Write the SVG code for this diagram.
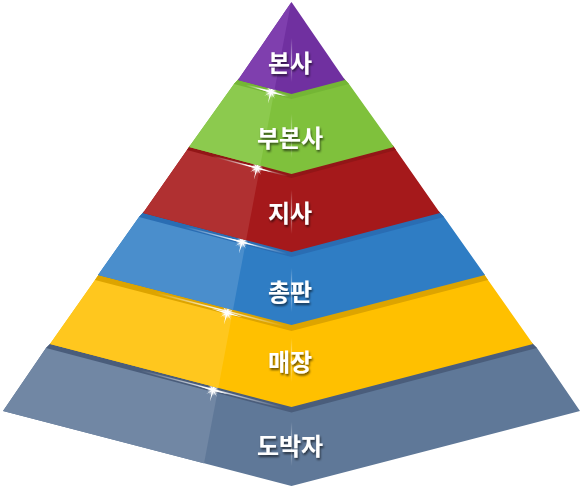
<svg xmlns="http://www.w3.org/2000/svg" xmlns:xlink="http://www.w3.org/1999/xlink" width="585" height="490" viewBox="0 0 585 490">
<style>
.lbl{font-family:"Noto Sans CJK KR","Noto Sans",sans-serif;font-weight:700;font-size:24px;fill:#ffffff;text-anchor:middle;dominant-baseline:central;filter:url(#tshadow)}
.glint{stroke:url(#glintGrad);stroke-width:1.4;fill:none}
.seam{fill:url(#seamGrad)}
</style>
<defs>
<filter id="tshadow" x="-20%" y="-30%" width="140%" height="170%">
<feDropShadow dx="1" dy="2" stdDeviation="1.3" flood-color="#000" flood-opacity="0.6"/>
</filter>
<clipPath id="leftFace"><polygon points="0,0 291.5,0 199,490 0,490"/></clipPath>
<linearGradient id="glintGrad" x1="0" y1="0" x2="1" y2="0">
<stop offset="0" stop-color="#fff" stop-opacity="0"/>
<stop offset="0.5" stop-color="#fff" stop-opacity="0.9"/>
<stop offset="1" stop-color="#fff" stop-opacity="0"/>
</linearGradient>
<linearGradient id="seamGrad" x1="0" y1="0" x2="0" y2="1">
<stop offset="0" stop-color="#fff" stop-opacity="0"/>
<stop offset="0.5" stop-color="#fff" stop-opacity="0.6"/>
<stop offset="1" stop-color="#fff" stop-opacity="0"/>
</linearGradient>
<radialGradient id="sparkGlow">
<stop offset="0" stop-color="#fff" stop-opacity="1"/>
<stop offset="0.35" stop-color="#fff" stop-opacity="0.8"/>
<stop offset="1" stop-color="#fff" stop-opacity="0"/>
</radialGradient>
<g id="spark">
<circle r="6" fill="url(#sparkGlow)"/>
<path d="M-16,0 L0,-1 L16,0 L0,1Z M0,-12 L1,0 L0,12 L-1,0Z" fill="#fff" transform="rotate(15)"/>
<path d="M-8,0 L0,-0.7 L8,0 L0,0.7Z" fill="#fff" transform="rotate(60)"/>
<path d="M-8,0 L0,-0.7 L8,0 L0,0.7Z" fill="#fff" transform="rotate(-30)"/>
</g>
</defs>

<g id="layer-dobakja">
<polygon points="46,348 51.5,342.5 291.5,405 531.5,342.5 537,348 580,411 291.5,486 3,411" fill="#5f7898"/>
<polygon points="46,348 51.5,342.5 291.5,405 531.5,342.5 537,348 580,411 291.5,486 3,411" fill="#7187a4" clip-path="url(#leftFace)"/>
<polygon points="46,348 51.5,342.5 291.5,405 531.5,342.5 537,348 291.5,412.5" fill="#4a5d7b"/>
<line class="glint" x1="140" y1="370.4" x2="283" y2="407.8"/>
<use xlink:href="#spark" x="213" y="390"/>
<rect class="seam" x="290.9" y="422" width="1.2" height="44"/>
<text class="lbl" x="290" y="444">도박자</text>
</g>

<g id="layer-maejang">
<polygon points="95,280 99.5,273.5 291.5,323 483.5,273.5 488,280 533,344 291.5,407 50,344" fill="#ffc000"/>
<polygon points="95,280 99.5,273.5 291.5,323 483.5,273.5 488,280 533,344 291.5,407 50,344" fill="#ffc71e" clip-path="url(#leftFace)"/>
<polygon points="95,280 99.5,273.5 291.5,323 483.5,273.5 488,280 291.5,331" fill="#dda400"/>
<line class="glint" x1="155" y1="292.7" x2="285" y2="326.3"/>
<use xlink:href="#spark" x="227" y="313"/>
<rect class="seam" x="290.9" y="338" width="1.2" height="44"/>
<text class="lbl" x="290" y="360">매장</text>
</g>

<g id="layer-chongpan">
<polygon points="139,217 144.5,211 291.5,250 438.5,211 444,217 485,275 291.5,325 98,275" fill="#2f7dc4"/>
<polygon points="139,217 144.5,211 291.5,250 438.5,211 444,217 485,275 291.5,325 98,275" fill="#4a8ecc" clip-path="url(#leftFace)"/>
<polygon points="139,217 144.5,211 291.5,250 438.5,211 444,217 291.5,257" fill="#2a6db3"/>
<line class="glint" x1="185" y1="227.1" x2="287" y2="253.8"/>
<use xlink:href="#spark" x="242" y="242"/>
<rect class="seam" x="290.9" y="268" width="1.2" height="44"/>
<text class="lbl" x="290" y="290">총판</text>
</g>

<g id="layer-jisa">
<polygon points="187,150 190.5,145 291.5,172 392.5,145 396,150 440,213 291.5,252 143,213" fill="#a5191b"/>
<polygon points="187,150 190.5,145 291.5,172 392.5,145 396,150 440,213 291.5,252 143,213" fill="#b03031" clip-path="url(#leftFace)"/>
<polygon points="187,150 190.5,145 291.5,172 392.5,145 396,150 291.5,178" fill="#921617"/>
<line class="glint" x1="212" y1="156.1" x2="288" y2="176.1"/>
<use xlink:href="#spark" x="257" y="168"/>
<rect class="seam" x="290.9" y="190" width="1.2" height="44"/>
<text class="lbl" x="290" y="211">지사</text>
</g>

<g id="layer-bubonsa">
<polygon points="234,84 239.5,78 291.5,92 343.5,78 349,84 394,147 291.5,174 189,147" fill="#7fc13c"/>
<polygon points="234,84 239.5,78 291.5,92 343.5,78 349,84 394,147 291.5,174 189,147" fill="#8cca4e" clip-path="url(#leftFace)"/>
<polygon points="234,84 239.5,78 291.5,92 343.5,78 349,84 291.5,99" fill="#74b635"/>
<line class="glint" x1="246" y1="85.1" x2="289" y2="96.3"/>
<use xlink:href="#spark" x="271" y="92"/>
<rect class="seam" x="290.9" y="114" width="1.2" height="44"/>
<text class="lbl" x="290" y="136">부본사</text>
</g>

<g id="layer-bonsa">
<polygon points="291.5,2 345,80 291.5,94 238,80" fill="#7030a0"/>
<polygon points="291.5,2 345,80 291.5,94 238,80" fill="#7f3fae" clip-path="url(#leftFace)"/>
<rect class="seam" x="290.9" y="38" width="1.2" height="44"/>
<text class="lbl" x="290" y="61">본사</text>
</g>

<g id="connectors"/>
</svg>
